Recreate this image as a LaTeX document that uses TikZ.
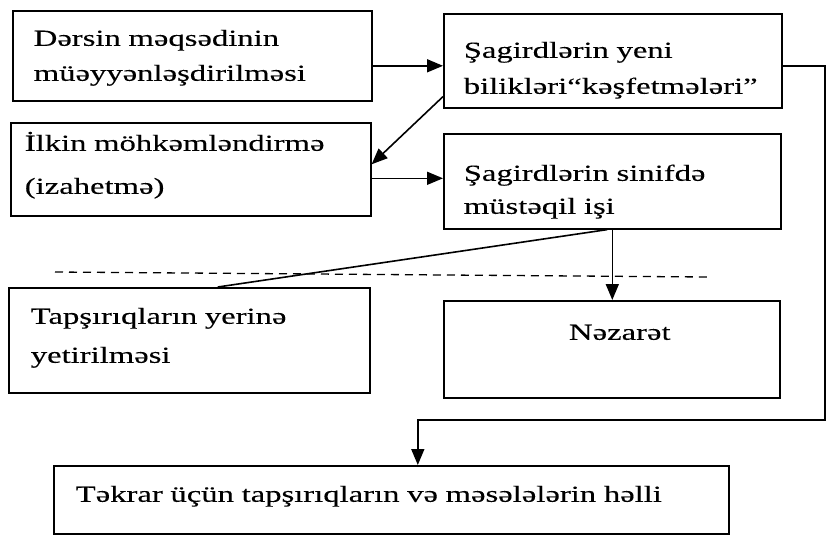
\documentclass[tikz,border=0pt]{standalone}
\usepackage{fontspec}
\setmainfont{Liberation Serif}[FakeStretch=1.42,FakeBold=0.2]
\usetikzlibrary{arrows.meta}
\begin{document}
\begin{tikzpicture}[x=1pt,y=-1pt,
  box/.style={draw, line width=1.6pt, rectangle, inner ysep=0pt, align=left, anchor=north west},
  ls/.style={font=\fontsize{23}{#1}\selectfont},
  arr/.style={line width=1.6pt, -{Triangle[length=16pt,width=13pt]}},
  conn/.style={line width=1.6pt},
  sep/.style={line width=1.3pt, dash pattern=on 8pt off 6pt}]
\useasboundingbox (0,0) rectangle (826,538);

\node[box, ls=35, inner xsep=21pt, minimum width=359pt, minimum height=90pt, text width=317pt, text height=35pt, text depth=55pt] (b1) at (12,10) {Dərsin məqsədinin\\müəyyənləşdirilməsi};
\node[box, ls=36, inner xsep=20pt, minimum width=338pt, minimum height=94pt, text width=298pt, text height=44pt, text depth=50pt] (b2) at (443,13) {Şagirdlərin yeni\\bilikləri“kəşfetmələri”};
\node[box, ls=43, inner xsep=14pt, minimum width=360pt, minimum height=93pt, text width=332pt, text height=28pt, text depth=65pt] (b3) at (10,122) {İlkin möhkəmləndirmə\\(izahetmə)};
\node[box, ls=33, inner xsep=20pt, minimum width=337pt, minimum height=95pt, text width=297pt, text height=47pt, text depth=48pt] (b4) at (443,133) {Şagirdlərin sinifdə\\müstəqil işi};
\node[box, ls=39, inner xsep=22pt, minimum width=361pt, minimum height=105pt, text width=317pt, text height=36pt, text depth=69pt] (b5) at (8,287) {Tapşırıqların yerinə\\yetirilməsi};
\node[box, ls=35, align=center, inner xsep=20pt, minimum width=336pt, minimum height=97pt, text width=296pt, text height=39pt, text depth=58pt] (b6) at (443,300) {\hspace*{16pt}Nəzarət};
\node[box, ls=35, inner xsep=22pt, minimum width=675pt, minimum height=68pt, text width=631pt, text height=36pt, text depth=32pt] (b7) at (53,465) {Təkrar üçün tapşırıqların və məsələlərin həlli};

\coordinate (d1) at (55,272);
\coordinate (d2) at (707,277);
\draw[sep] (d1) -- (d2);

\draw[arr] ([yshift=-10pt]b1.east) -- ([yshift=-10pt]b1.east -| b2.west);
\draw[arr] ([yshift=12pt]b2.south west) -- ([yshift=5pt]b3.east);
\draw[arr] ([yshift=-9pt]b3.east) -- ([yshift=-9pt]b3.east -| b4.west);
\draw[conn] ([xshift=-5pt]b4.south) -- ([xshift=28.5pt]b5.north);
\draw[arr] (b4.south) -- (b4.south |- b6.north);
\coordinate (rc) at (825,420);
\draw[arr] ([yshift=-5pt]b2.east) -| (rc) -| ([xshift=26.5pt]b7.north);
\end{tikzpicture}
\end{document}
